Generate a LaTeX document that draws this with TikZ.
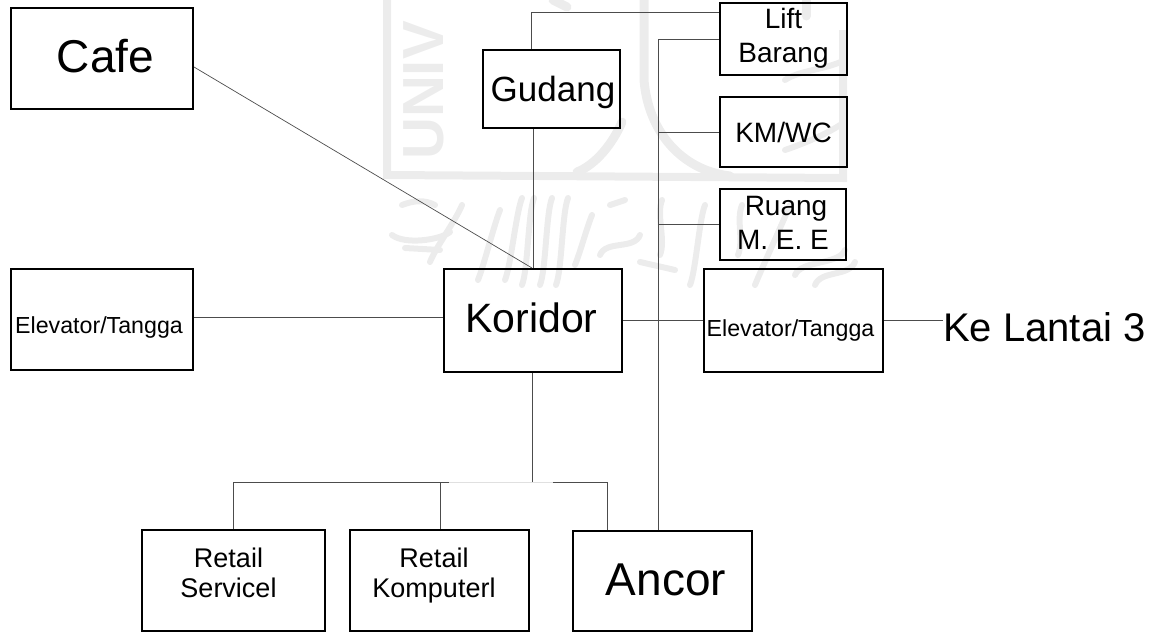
\documentclass[tikz,border=0pt]{standalone}
\usepackage{fontspec}
\setmainfont{Liberation Sans}
\definecolor{wm}{gray}{0.925}
\tikzset{
  room/.style={draw=black,line width=2pt,inner sep=0pt,align=center,text=black},
  link/.style={draw=black!70,line width=0.7pt},
  faintlink/.style={draw=black!12,line width=0.7pt},
  big/.style={font=\fontsize{46}{50}\selectfont},
  cor/.style={font=\fontsize{41}{44}\selectfont},
  gud/.style={font=\fontsize{35}{38}\selectfont},
  liftfont/.style={font=\fontsize{28}{34}\selectfont},
  ret/.style={font=\fontsize{27}{30}\selectfont},
  tiny/.style={font=\fontsize{23.2}{26}\selectfont},
  wmark/.style={draw=wm,line width=9pt,line cap=round},
  wmthin/.style={draw=wm,line width=6pt,line cap=round}
}
\newcommand{\placed}[3]{\smash{\kern#1pt\raisebox{-#2pt}{\begin{tabular}[t]{@{}c@{}}#3\end{tabular}}}}
\newcommand{\roomnode}[9]{% name style x0 y0 x1 y1 dx dy text
  \node[room,#2,minimum width=#5pt-#3pt,minimum height=#6pt-#4pt] (#1) at ({(#3+#5)/2},{(#4+#6)/2}) {\placed{#7}{#8}{#9}};}
\begin{document}
\begin{tikzpicture}[x=1pt,y=-1pt]
\useasboundingbox (0,0) rectangle (1157,632);
% faint watermark
\begin{scope}
\draw[wm,line width=8pt] (387,0) -- (387,175) -- (843,178) -- (843,30);
\node[wm,rotate=90,anchor=south west,inner sep=0pt,font=\fontsize{58}{60}\selectfont\bfseries] (wmtext) at (444,160) {UNIV};
\draw[wmark] (644,0) -- (644,80) .. controls (648,130) and (680,170) .. (730,176);
\draw[wmark] (622,122) .. controls (612,145) and (595,165) .. (577,172);
\draw[wmark] (553,0) -- (567,7);
\draw[wmark] (806,0) -- (806,16);
\draw[wmthin] (785,80) .. controls (800,70) and (825,70) .. (845,60);
\draw[wmthin] (785,150) .. controls (800,145) and (825,135) .. (840,125);
\foreach \xa/\ya/\xb/\yb in {430/262/462/205,
   478/280/500/210,505/280/522/198,522/285/534/198,540/285/552/198,556/285/568/198,
   575/265/592/215,600/255/640/235,
   660/255/662/200,690/285/705/205,738/255/742/205,755/285/790/205,
   795/275/845/250,815/285/855/262}
  \draw[wmthin] (\xa,\ya) .. controls ({\xa+6},{\ya-15}) and ({\xb-6},{\yb+15}) .. (\xb,\yb);
\draw[wmthin] (392,235) .. controls (405,245) and (440,240) .. (450,232);
\draw[wmthin] (402,205) .. controls (415,200) and (425,200) .. (435,205);
\draw[wmthin] (405,248) -- (440,250);
\draw[wmthin] (610,205) -- (625,200);
\draw[wmthin] (640,262) -- (675,270);
\end{scope}
% rooms
\roomnode{cafe}{big}{11}{8}{193}{109}{7}{13.5}{Cafe}
\roomnode{gudang}{gud}{483}{50}{620}{128}{3}{12}{Gudang}
\roomnode{lift}{liftfont}{720}{3}{847}{75}{0}{-11}{Lift\\Barang}
\roomnode{km}{liftfont}{720}{97}{847}{167}{0}{10}{KM/WC}
\roomnode{ruang}{liftfont}{720}{189}{846}{260}{0}{-9.5}{\kern6pt Ruang\\M. E. E}
\roomnode{elevl}{tiny}{11}{269}{193}{370}{-6}{13.5}{Elevator/Tangga}
\roomnode{koridor}{cor}{444}{269}{622}{372}{-3}{12}{Koridor}
\roomnode{elevr}{tiny}{704}{269}{883}{372}{-6}{16}{Elevator/Tangga}
\roomnode{service}{ret}{142}{530}{325}{631}{-10}{-13.5}{Retail\\Servicel}
\roomnode{komputer}{ret}{350}{530}{529}{631}{-11}{-13.5}{Retail\\Komputerl}
\roomnode{ancor}{big}{573}{531}{752}{631}{7}{14}{Ancor}
\node[font=\fontsize{40}{44}\selectfont,inner sep=0pt,anchor=base west] (ke) at (943,341) {Ke Lantai 3};
% connector guides
\coordinate (cafeout) at (194,67);
\coordinate (corin) at (532,268);
\coordinate (topbend) at (531,12);
\coordinate (gudlink) at (533,200);
\coordinate (leftlink) at (300,317);
\coordinate (rightlink) at (658,320);
\coordinate (kelink) at (900,320);
\coordinate (trunktop) at (658,39);
\coordinate (tr132) at (658,132);
\coordinate (tr224) at (658,224);
\coordinate (busL) at (233,482);
\coordinate (busK) at (440,482);
\coordinate (gapL) at (449,482);
\coordinate (busC) at (532,482);
\coordinate (gapR) at (553,482);
\coordinate (busA) at (607,482);
% connectors
\draw[link] (cafeout) -- (corin);
\draw[link] (gudang.north -| topbend) -- (topbend) -- (lift.west |- topbend);
\draw[link] (gudang.south -| gudlink) -- (koridor.north -| gudlink);
\draw[link] (elevl.east |- leftlink) -- (koridor.west |- leftlink);
\draw[link] (koridor.east |- rightlink) -- (elevr.west |- rightlink);
\draw[link] (elevr.east |- kelink) -- (ke.west |- kelink);
\draw[link] (ancor.north -| trunktop) -- (trunktop) -- (lift.west |- trunktop);
\draw[link] (tr132) -- (km.west |- tr132);
\draw[link] (tr224) -- (ruang.west |- tr224);
\draw[link] (koridor.south -| busC) -- (busC);
\draw[link] (service.north -| busL) -- (busL) -- (gapL);
\draw[faintlink] (gapL) -- (gapR);
\draw[link] (gapR) -- (busA) -- (ancor.north -| busA);
\draw[link] (busK) -- (komputer.north -| busK);
\end{tikzpicture}
\end{document}
